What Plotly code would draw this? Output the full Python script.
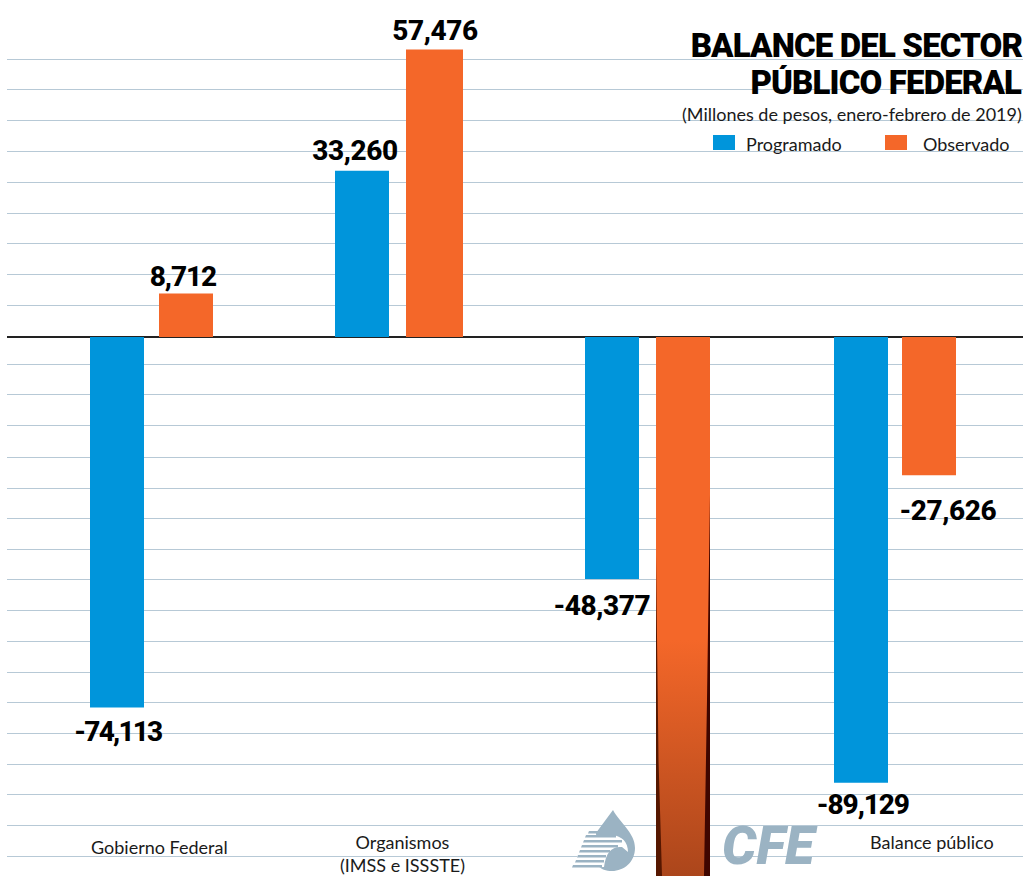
import plotly.graph_objects as go

# ---- data ----
categories = ["Gobierno Federal", "Organismos (IMSS e ISSSTE)", "CFE", "Balance público"]
programado = [-74113, 33260, -48377, -89129]
observado = [8712, 57476, -112000, -27626]   # CFE observed runs off the chart; estimated
programado_labels = ["-74,113", "33,260", "-48,377", "-89,129"]
observado_labels = ["8,712", "57,476", "", "-27,626"]
grid_values = [55600, 49600, 43400, 37200, 31000, 24800, 18800, 12600, 6400, 200,
               -5400, -11400, -17600, -24000, -30200, -36200, -42400, -48400, -54600,
               -60800, -67000, -73000, -79200, -85400, -91400, -97600, -103800]
title_lines = ["BALANCE DEL SECTOR", "PÚBLICO FEDERAL"]
subtitle = "(Millones de pesos, enero-febrero de 2019)"

# ---- layout constants (pixels) ----
W, H = 1023, 876
LEFT = 7
ZERO = 337
PER_UNIT = 5.0 / 1000
SP = 248.0
C0 = 151.5
BLUE = "#0095db"
ORANGE = "#f46729"
GRID = "#b7c9d6"
LOGO = "#9bb3c3"
FONT = "Lato"
HEAVY = "Roboto"
TITLE_SIZE, TITLE_TRACK = 33, -0.85
VALUE_SIZE = 28

def ux(px):
    return (px - C0) / SP

def pxx(px):
    return (px - LEFT) / (W - LEFT)

def pxy(py):
    return 1 - py / H

xs = list(range(len(categories)))
blue_left = [90, 335, 585, 834]
blue_w = [54, 54, 54, 54]
orange_left = [159, 406, 656, 902]
orange_w = [54, 57, 54, 54]

fig = go.Figure()
fig.add_bar(name="Programado", x=xs, y=programado, marker_color=BLUE, marker_line_width=0,
            width=[w / SP for w in blue_w],
            offset=[ux(l) - i for i, l in enumerate(blue_left)])
fig.add_bar(name="Observado", x=xs, y=observado, marker_color=ORANGE, marker_line_width=0,
            width=[w / SP for w in orange_w],
            offset=[ux(l) - i for i, l in enumerate(orange_left)])

# gradient on the lower part of the overflowing bar + dark tapered edges
i = 2
bar_l, bar_r = ux(orange_left[i]), ux(orange_left[i] + orange_w[i])
ymin = observado[i]
def to_val(py):
    return -(py - ZERO) / PER_UNIT
grad_top = to_val(640)
fig.add_scatter(x=[bar_l, bar_r, bar_r, bar_l, bar_l], y=[grad_top, grad_top, ymin, ymin, grad_top],
                mode="lines", line_width=0, fill="toself", hoverinfo="skip", showlegend=False,
                fillgradient=dict(type="vertical", colorscale=[[0, "#a5431a"], [1, ORANGE]]))
def taper(edge_px, sign, profile, color):
    px = [edge_px] * 2 + [edge_px + sign * w for _, w in reversed(profile)] + [edge_px]
    py = [profile[0][0], 896] + [p for p, _ in reversed(profile)] + [profile[0][0]]
    fig.add_scatter(x=[ux(v) for v in px], y=[to_val(v) for v in py],
                    mode="lines", line_width=0, fill="toself", fillcolor=color,
                    hoverinfo="skip", showlegend=False)
taper(orange_left[i], 1, [(555, 0), (640, 1), (760, 2.5), (876, 6), (896, 7)], "#561700")
taper(orange_left[i] + orange_w[i], -1, [(495, 0), (600, 1.5), (700, 3), (876, 6), (896, 7)], "#3f0600")

ann = []
def note(text, x, y, size, color="#000", weight=400, xanchor="center", yanchor="middle",
         xref="paper", yref="paper", family=FONT, **kw):
    ann.append(dict(text=text, x=x, y=y, xref=xref, yref=yref, showarrow=False, xanchor=xanchor,
                    yanchor=yanchor, font=dict(family=family, size=size, color=color, weight=weight), **kw))

# value labels, placed relative to bar ends
blue_shift = [(1, -24), (-7, 20), (-10, -27), (2, -22)]
for k, (v, t) in enumerate(zip(programado, programado_labels)):
    note(t, k, v, VALUE_SIZE, weight=800, xref="x", yref="y", family=HEAVY,
         xshift=blue_shift[k][0] + (blue_left[k] + 27 - (C0 + k * SP)), yshift=blue_shift[k][1])
orange_shift = [(-3, 17), (0, 19), (0, 0), (19, -35)]
for k, (v, t) in enumerate(zip(observado, observado_labels)):
    if t:
        note(t, k, v, VALUE_SIZE, weight=800, xref="x", yref="y", family=HEAVY,
             xshift=orange_shift[k][0] + (orange_left[k] + orange_w[k] / 2 - (C0 + k * SP)), yshift=orange_shift[k][1])

# title block (tracking tightens around the box centre, so the right edge is compensated)
note(title_lines[0], pxx(1022), pxy(45), TITLE_SIZE, weight=900, xanchor="right", family=HEAVY,
     xshift=2 - TITLE_TRACK * len(title_lines[0]) / 2, height=34)
note(title_lines[1], pxx(1022), pxy(82), TITLE_SIZE, weight=900, xanchor="right", family=HEAVY,
     xshift=2 - TITLE_TRACK * len(title_lines[1]) / 2, height=34)
note(subtitle, pxx(1022), pxy(114), 18, color="#1a1a1a", xanchor="right", xshift=2)
note("Programado", pxx(746), pxy(144), 18, color="#1a1a1a", xanchor="left", xshift=-2)
note("Observado", pxx(923), pxy(144), 18, color="#1a1a1a", xanchor="left", xshift=-2)

# category labels
note("Gobierno Federal", pxx(159), pxy(847), 18, color="#1a1a1a")
note("Organismos<br>(IMSS e ISSSTE)", pxx(402), pxy(853), 18, color="#1a1a1a")
note("Balance público", pxx(932), pxy(842), 18, color="#1a1a1a")
note("<i>CFE</i>", pxx(770), pxy(845), 54, color=LOGO, weight=900, family=HEAVY)

shapes = []
def rect(x0, y0, x1, y1, color):
    shapes.append(dict(type="rect", xref="paper", yref="paper", x0=pxx(x0), x1=pxx(x1), y0=pxy(y1), y1=pxy(y0),
                       fillcolor=color, line_width=0, layer="above"))
rect(713, 135, 735, 150, BLUE)
rect(885, 135, 907, 150, ORANGE)

def path(cmds, color):
    s = ""
    for c in cmds:
        s += (c if isinstance(c, str) else f"{pxx(c[0]):.5f},{pxy(c[1]):.5f}") + " "
    shapes.append(dict(type="path", xref="paper", yref="paper", path=s.strip(), fillcolor=color, line_width=0, layer="above"))

# logo: drop, head cut-out, feathers
path(["M", (613, 810), "C", (620, 823), (635, 833), (635, 848), "C", (635, 862), (624, 871), (612, 871),
      "C", (606, 871), (601, 869), (598, 866), "L", (596, 833), "Z"], LOGO)
path(["M", (586, 835), "L", (612, 835), "C", (622, 836), (628, 842), (628, 852), "L", (622, 847),
      "C", (612, 846), (606, 852), (604, 867), "L", (572, 869), "Z"], "white")
for y, xl, xr in [(831, 589, 600), (835, 586, 616), (840, 584, 622), (845, 582, 618),
                  (850, 580, 610), (855, 578, 606), (860, 576, 604), (865, 573, 602)]:
    path(["M", (xl, y), "L", (xr, y), "L", (xr, y + 2.4), "L", (xl - 1, y + 2.4), "Z"], LOGO)

fig.update_layout(
    width=W, height=H, margin=dict(l=LEFT, r=0, t=0, b=0),
    paper_bgcolor="white", plot_bgcolor="white", showlegend=False,
    xaxis=dict(range=[ux(LEFT), ux(W)], visible=False, fixedrange=True),
    yaxis=dict(range=[-(H - ZERO) / PER_UNIT, ZERO / PER_UNIT], tickvals=grid_values, showticklabels=False,
               ticks="", showgrid=True, gridcolor=GRID, gridwidth=1,
               zeroline=True, zerolinecolor="#222222", zerolinewidth=1.5, fixedrange=True),
    annotations=ann, shapes=shapes,
)
post = f"""
document.body.style.margin='0';document.body.style.overflow='hidden';
document.querySelectorAll('.annotation-text').forEach(function(t){{
  var s=parseFloat(t.style.fontSize);
  if(s=={TITLE_SIZE}) t.style.letterSpacing='{TITLE_TRACK}px';
  if(s=={VALUE_SIZE}) t.style.letterSpacing=(-0.4-0.7*(t.textContent.split('1').length-1))+'px';
}});
"""
fig.write_html("out.html", config={"displayModeBar": False}, post_script=post)
